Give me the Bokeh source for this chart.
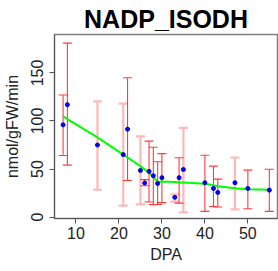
from bokeh.plotting import figure
from bokeh.models import ColumnDataSource, Whisker, TeeHead, FixedTicker, Range1d, Title
from bokeh.embed import file_html
from bokeh.resources import INLINE

# Data
dpa   = [7, 8, 15, 21, 22, 25, 26, 27, 28, 29, 30, 33, 34, 35, 40, 42, 43, 47, 50, 55]
mean  = [96, 117, 75, 65, 91.5, 48.5, 35.5, 47.5, 43, 35, 41, 20.5, 41, 49.5, 35.7, 29.8, 25.6, 35.7, 29.8, 28]
upper = [127, 181, 120.5, 118, 145, 84, 39, 79, 72.7, 57.5, 66, 23.6, 61.7, 92.8, 64.4, 53, 39.5, 62, 48.8, 49.8]
lower = [64, 54, 28.4, 12, 38, 13.2, 32.6, 15.6, 12.9, 13, 15, 16, 14.5, 4.9, 5.9, 11, 10.4, 8, 8.7, 5.9]
light = [False, False, True, True, False, True, False, False, False, False, False, True, False, True, False, False, False, True, False, False]
fit   = [105, 102, 83, 65, 62, 53, 49.5, 46, 42, 36.5, 37, 36.5, 36, 36, 34.7, 33, 32, 30, 29, 28.5]

x_ticks = [10, 20, 30, 40, 50]
y_ticks = [0, 50, 100, 150]

FONT = "Liberation Sans"

p = figure(width=278, height=271, output_backend="svg", toolbar_location=None,
           x_range=Range1d(5.0, 56.9), y_range=Range1d(-1.5, 190),
           min_border_left=54, min_border_right=1, min_border_top=34, min_border_bottom=53)
p.title = None
p.add_layout(Title(text="NADP_ISODH", align="center", text_font=FONT, text_font_size="25px",
                   text_font_style="bold", text_color="black", standoff=3), "above")

p.xgrid.visible = False
p.ygrid.visible = False
p.outline_line_color = "#808080"
p.outline_line_width = 1.5

def idx(flag):
    return [i for i in range(len(dpa)) if light[i] == flag]

for flag, col, w in [(True, "#FFB8B8", 2.2), (False, "#FF3B3B", 1.1)]:
    ii = idx(flag)
    src = ColumnDataSource(dict(x=[dpa[i] for i in ii], u=[upper[i] for i in ii], l=[lower[i] for i in ii]))
    wh = Whisker(base="x", upper="u", lower="l", source=src, line_color=col, line_width=w,
                 upper_head=TeeHead(size=9, line_color=col, line_width=w),
                 lower_head=TeeHead(size=9, line_color=col, line_width=w))
    p.add_layout(wh)

p.line(dpa, fit, line_color="#00FF00", line_width=2)
p.scatter(dpa, mean, size=4, marker="circle", fill_color="#0000FF", line_color="#0000CC")

for ax in (p.xaxis[0], p.yaxis[0]):
    ax.major_label_text_font = FONT
    ax.major_label_text_font_size = "16px"
    ax.axis_label_text_font = FONT
    ax.axis_label_text_font_size = "16px"
    ax.axis_label_text_font_style = "normal"
    ax.major_label_text_line_height = 0.8
    ax.axis_label_text_line_height = 0.8
    ax.minor_tick_line_color = None
    ax.major_tick_in = 0
    ax.major_tick_out = 5
    ax.axis_line_color = "#555555"
    ax.major_tick_line_color = "#555555"
    ax.major_label_text_color = "#222222"
    ax.axis_label_text_color = "#222222"

p.xaxis.ticker = FixedTicker(ticks=x_ticks)
p.yaxis.ticker = FixedTicker(ticks=y_ticks)
p.xaxis.axis_label = "DPA"
p.yaxis.axis_label = "nmol/gFW/min"
p.yaxis.major_label_orientation = "vertical"
p.xaxis.major_label_standoff = 3
p.yaxis.major_label_standoff = 6
p.xaxis.axis_label_standoff = 4
p.yaxis.axis_label_standoff = 8

open("out.html", "w").write(file_html(p, INLINE))
